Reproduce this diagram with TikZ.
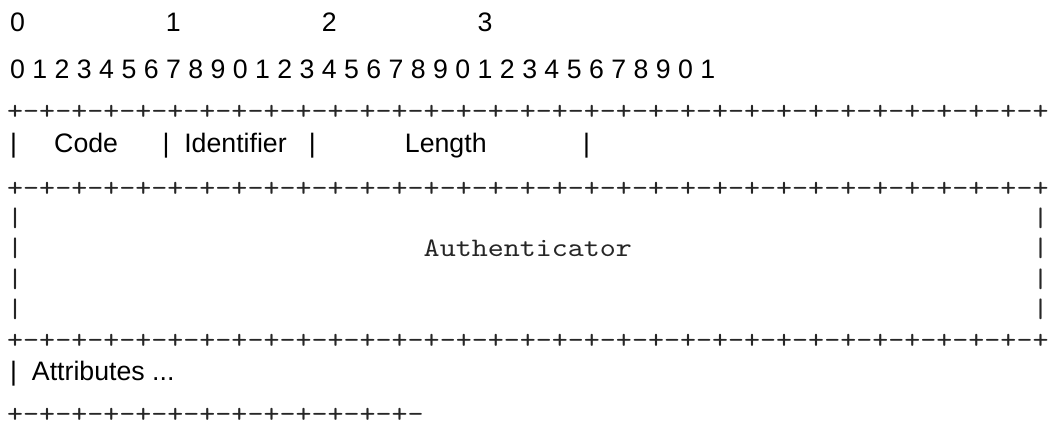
\documentclass[tikz,border=0pt]{standalone}
\usepackage{fontspec}
\newfontfamily\sansf{Liberation Sans}
\newfontfamily\monof[FakeStretch=1.1429]{lmmono10-regular.otf}
\tikzset{
  sansline/.style={anchor=base west, inner sep=0pt, text=black, font=\sansf\fontsize{26.7}{30}\selectfont},
  monoline/.style={anchor=base west, inner sep=0pt, text=black!85, font=\monof\fontsize{26.7}{30}\selectfont},
}
\begin{document}
\begin{tikzpicture}[x=1pt,y=-1pt]
\useasboundingbox[fill=white] (0,0) rectangle (1048,425);
% sans-serif lines
\node[sansline] (tens) at (10,32) {0~~~~~~~~~~~~~~~~~~~1~~~~~~~~~~~~~~~~~~~2~~~~~~~~~~~~~~~~~~~3};
\node[sansline] (bits) at (10,79) {0~1~2~3~4~5~6~7~8~9~0~1~2~3~4~5~6~7~8~9~0~1~2~3~4~5~6~7~8~9~0~1};
\node[sansline] (hdr) at (10,152) {|~~~~~Code~~~~~~|~~Identifier~~~|~~~~~~~~~~~~Length~~~~~~~~~~~~~|};
\node[sansline] (attr) at (10,380) {|~~Attributes~...};
% monospace lines
\node[monoline] (r1) at (7,119) {+-+-+-+-+-+-+-+-+-+-+-+-+-+-+-+-+-+-+-+-+-+-+-+-+-+-+-+-+-+-+-+-+};
\node[monoline] (r2) at (7,196) {+-+-+-+-+-+-+-+-+-+-+-+-+-+-+-+-+-+-+-+-+-+-+-+-+-+-+-+-+-+-+-+-+};
\node[monoline] (a1) at (7,226.4) {|~~~~~~~~~~~~~~~~~~~~~~~~~~~~~~~~~~~~~~~~~~~~~~~~~~~~~~~~~~~~~~~|};
\node[monoline] (a2) at (7,256.8) {|~~~~~~~~~~~~~~~~~~~~~~~~~Authenticator~~~~~~~~~~~~~~~~~~~~~~~~~|};
\node[monoline] (a3) at (7,287.2) {|~~~~~~~~~~~~~~~~~~~~~~~~~~~~~~~~~~~~~~~~~~~~~~~~~~~~~~~~~~~~~~~|};
\node[monoline] (a4) at (7,317.6) {|~~~~~~~~~~~~~~~~~~~~~~~~~~~~~~~~~~~~~~~~~~~~~~~~~~~~~~~~~~~~~~~|};
\node[monoline] (r3) at (7,348) {+-+-+-+-+-+-+-+-+-+-+-+-+-+-+-+-+-+-+-+-+-+-+-+-+-+-+-+-+-+-+-+-+};
\node[monoline, text depth=0pt] (r4) at (7,422) {+-+-+-+-+-+-+-+-+-+-+-+-+-};
\end{tikzpicture}
\end{document}
